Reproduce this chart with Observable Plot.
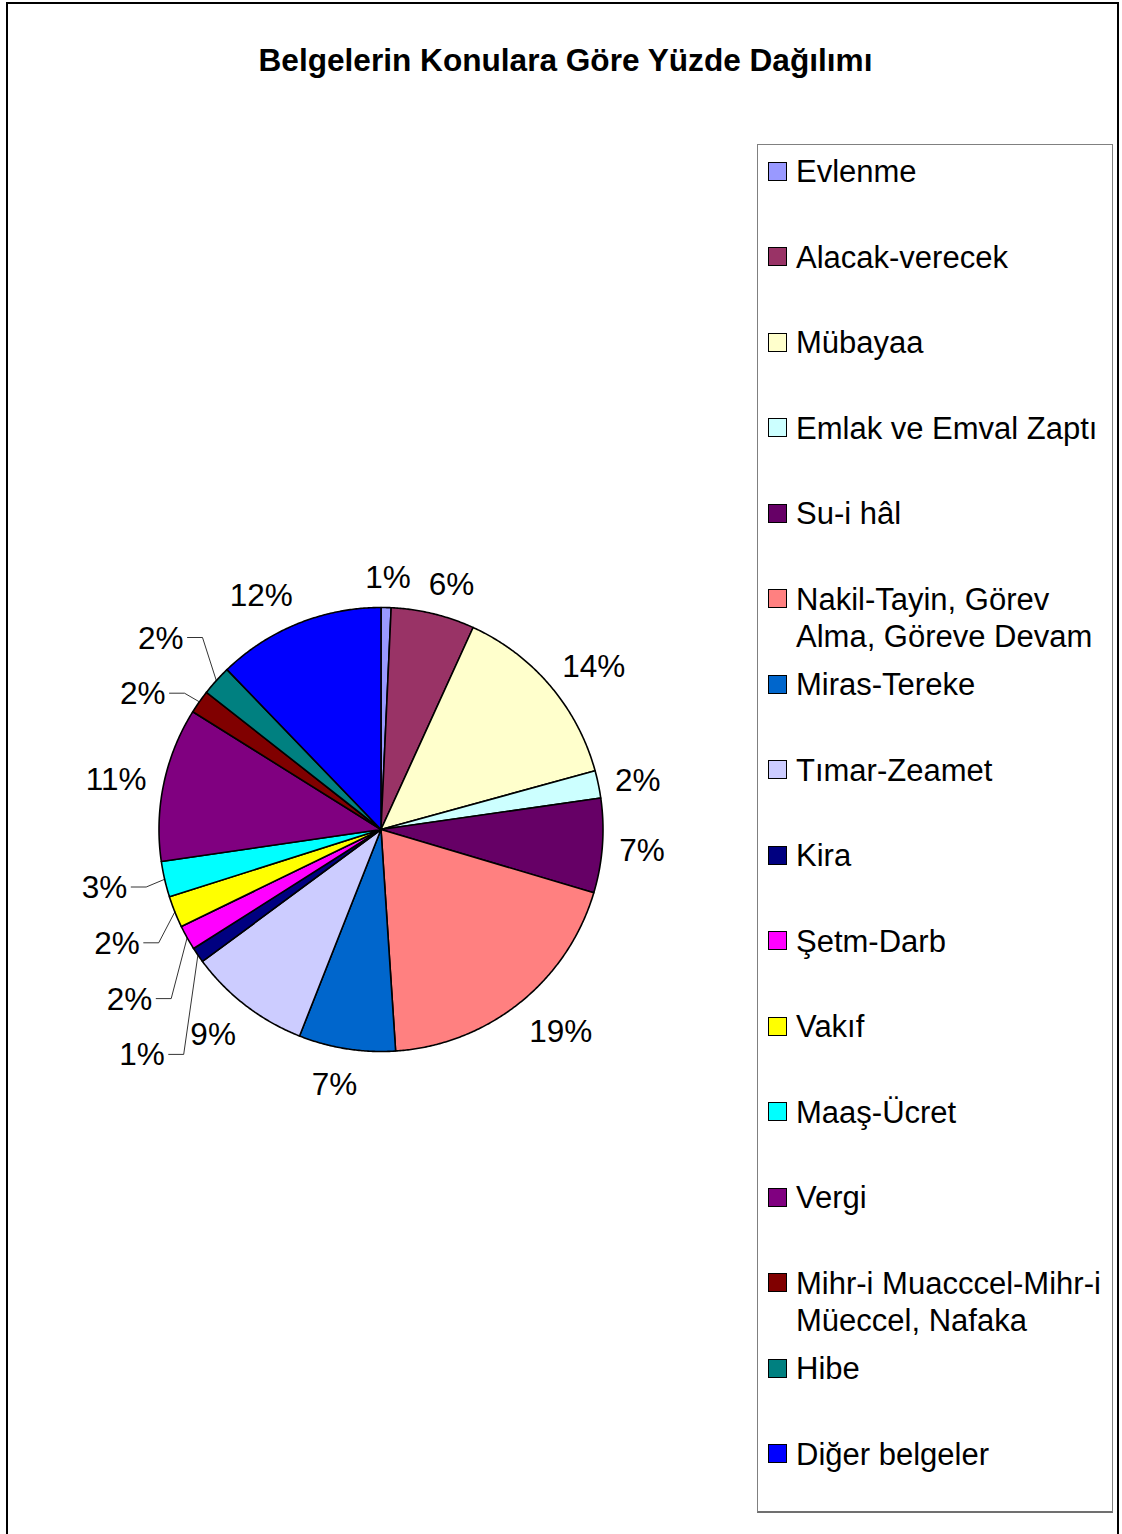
<!DOCTYPE html>
<html><head><meta charset="utf-8">
<script src="https://cdn.jsdelivr.net/npm/d3@7"></script>
<script src="https://cdn.jsdelivr.net/npm/@observablehq/plot@0.6"></script>
<style>
body{margin:0;background:#fff;font-family:"Liberation Sans",Arial,sans-serif;}
#page{position:relative;width:1122px;height:1534px;overflow:hidden;background:#fff;}
#frame{position:absolute;left:6px;top:2px;width:1113px;height:1600px;border:2px solid #000;box-sizing:border-box;}
#title{position:absolute;left:0;width:1131px;top:45px;text-align:center;font-weight:bold;font-size:31.6px;line-height:31.6px;color:#000;}
#chart{position:absolute;left:0;top:0;}
#legend{position:absolute;left:757px;top:144px;width:356px;height:1369px;border:1px solid #808080;border-bottom:2px solid #707070;box-sizing:border-box;background:#fff;}
.item{position:absolute;left:0;width:100%;}
.sw{position:absolute;left:10px;width:17px;height:17px;border:1px solid #000;}
.lab{position:absolute;left:38px;width:314px;font-size:31px;line-height:37px;color:#000;white-space:normal;}
</style></head>
<body>
<div id="page">
  <div id="frame"></div>
  <div id="title"></div>
  <div id="chart"></div>
  <div id="legend"></div>
</div>
<script>
// ---- data ----
const title = "Belgelerin Konulara Göre Yüzde Dağılımı";
const categories = ["Evlenme","Alacak-verecek","Mübayaa","Emlak ve Emval Zaptı","Su-i hâl","Nakil-Tayin, Görev Alma, Göreve Devam","Miras-Tereke","Tımar-Zeamet","Kira","Şetm-Darb","Vakıf","Maaş-Ücret","Vergi","Mihr-i Muacccel-Mihr-i Müeccel, Nafaka","Hibe","Diğer belgeler"];
const shares = [0.73,6.08,13.93,2.0,6.86,19.35,7.03,8.89,1.13,1.8,2.3,2.6,11.2,1.7,2.2,12.2];
const colors = ["#9999FF","#993366","#FFFFCC","#CCFFFF","#660066","#FF8080","#0066CC","#CCCCFF","#000080","#FF00FF","#FFFF00","#00FFFF","#800080","#800000","#008080","#0000FF"];
// labels moved out with leader lines (Excel manual placement)
const leaderLower = ["Maaş-Ücret","Vakıf","Şetm-Darb","Kira"];
const leaderUpper = ["Mihr-i Muacccel-Mihr-i Müeccel, Nafaka","Hibe"];

// ---- layout ----
const W = 1122, H = 1534, CX = 380.5, CY = 829, R = 222;
const FS = 31.5;
document.getElementById("title").textContent = title;

const total = d3.sum(shares);
let acc = 0;
const slices = categories.map((c, i) => {
  const a0 = acc / total * 360; acc += shares[i];
  const a1 = acc / total * 360;
  return {c, a0, a1, mid: (a0 + a1) / 2, pct: Math.round(shares[i] / total * 100) + "%"};
});
const rad = a => a * Math.PI / 180;

// wedge outlines
const wedge = [];
for (const s of slices) {
  const n = Math.max(2, Math.ceil((s.a1 - s.a0) / 0.4));
  wedge.push({c: s.c, x: 0, y: 0});
  for (let k = 0; k <= n; k++) {
    const a = rad(s.a0 + (s.a1 - s.a0) * k / n);
    wedge.push({c: s.c, x: R * Math.sin(a), y: R * Math.cos(a)});
  }
  wedge.push({c: s.c, x: 0, y: 0});
}

const textW = t => 30 * (0.556 * (t.length - 1) + 0.889);
const clamp = v => Math.max(-1, Math.min(1, v));

// default labels
const plain = slices.filter(s => !leaderLower.includes(s.c) && !leaderUpper.includes(s.c)).map(s => {
  const t = rad(s.mid), r = R + 18, w = textW(s.pct);
  return {text: s.pct, x: r * Math.sin(t) + w / 2 * clamp(2.8 * Math.sin(t)), y: r * Math.cos(t) + 15 * Math.cos(t) - 3};
});

// stacked labels with leader lines
const leaderLabels = [], leaderLines = [];
function stack(names, start, step) {
  names.forEach((name, i) => {
    const s = slices.find(d => d.c === name);
    const xr = start[0] + i * step[0], y = start[1] + i * step[1];
    leaderLabels.push({text: s.pct, x: xr, y: y - 1});
    const t = rad(s.mid);
    leaderLines.push({k: name, x: xr + 4, y}, {k: name, x: xr + 19, y}, {k: name, x: R * Math.sin(t), y: R * Math.cos(t)});
  });
}
stack(leaderLower, [-253.8, -57.5], [12.5, -55.8]);
stack(leaderUpper, [-215.5, 136.3], [18, 55.7]);

const chart = Plot.plot({
  width: W, height: H, margin: 0,
  style: {background: "transparent", overflow: "visible"},
  x: {domain: [-CX, W - CX], range: [0, W], axis: null},
  y: {domain: [CY - H, CY], range: [H, 0], axis: null},
  color: {domain: categories, range: colors},
  marks: [
    Plot.line(wedge, {x: "x", y: "y", z: "c", fill: "c", stroke: "#000", strokeWidth: 1.6, strokeLinejoin: "round", curve: "linear"}),
    Plot.line(leaderLines, {x: "x", y: "y", z: "k", stroke: "#000", strokeWidth: 0.8}),
    Plot.text(plain, {x: "x", y: "y", text: "text", fontSize: FS, fontFamily: "Liberation Sans, Arial, sans-serif", fill: "#000", textAnchor: "middle", lineAnchor: "middle"}),
    Plot.text(leaderLabels, {x: "x", y: "y", text: "text", fontSize: FS, fontFamily: "Liberation Sans, Arial, sans-serif", fill: "#000", textAnchor: "end", lineAnchor: "middle"})
  ]
});
document.getElementById("chart").appendChild(chart);

// legend
const legend = d3.select("#legend");
const firstCenter = 171.4, step = 85.5, legendTop = 145;
categories.forEach((c, i) => {
  const item = legend.append("div").attr("class", "item").style("top", (firstCenter + i * step - legendTop - 18.0) + "px");
  item.append("div").attr("class", "sw").style("top", "8.5px").style("background", colors[i]);
  item.append("div").attr("class", "lab").text(c);
});
</script>
</body></html>
